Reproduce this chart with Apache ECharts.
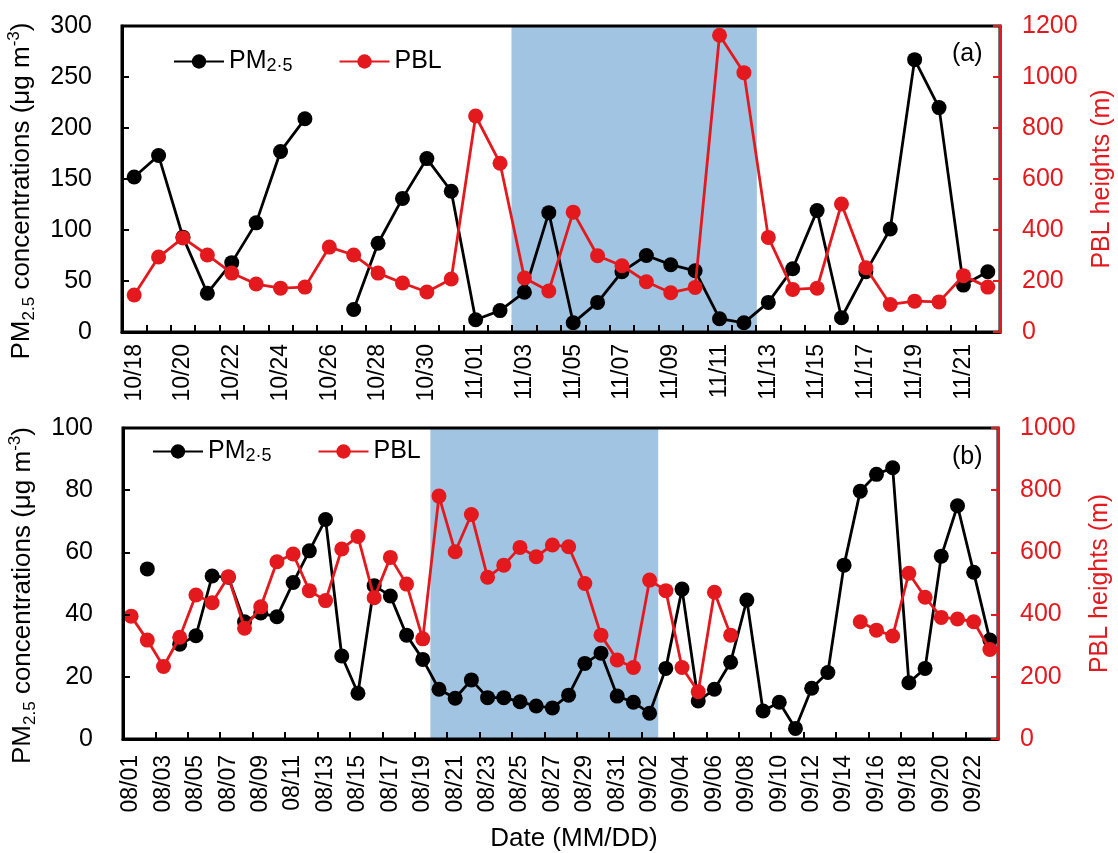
<!DOCTYPE html>
<html>
<head>
<meta charset="utf-8">
<script src="https://cdn.jsdelivr.net/npm/echarts@6/dist/echarts.min.js"></script>
<style>html,body{margin:0;padding:0;background:#fff}#c{width:1118px;height:853px}</style>
</head>
<body>
<div id="c"></div>
<script>
const datesA = ['10/18','10/19','10/20','10/21','10/22','10/23','10/24','10/25','10/26','10/27','10/28','10/29','10/30','10/31','11/01','11/02','11/03','11/04','11/05','11/06','11/07','11/08','11/09','11/10','11/11','11/12','11/13','11/14','11/15','11/16','11/17','11/18','11/19','11/20','11/21','11/22'];
const pmA = [152,173,93,38,68,107,177,209,null,22,87,131,170,138,12,21,39,117,9,29,59,75,66,60,13,9,29,62,119,14,59,101,267,220,46,59];
const pblA = [145,294,369,302,231,188,172,176,333,302,231,192,157,208,847,662,212,161,470,299,260,197,154,175,1164,1017,371,167,172,502,252,108,121,118,221,176];
const shadeA = ['11/03','11/12'];

const datesB = ['08/01','08/02','08/03','08/04','08/05','08/06','08/07','08/08','08/09','08/10','08/11','08/12','08/13','08/14','08/15','08/16','08/17','08/18','08/19','08/20','08/21','08/22','08/23','08/24','08/25','08/26','08/27','08/28','08/29','08/30','08/31','09/01','09/02','09/03','09/04','09/05','09/06','09/07','09/08','09/09','09/10','09/11','09/12','09/13','09/14','09/15','09/16','09/17','09/18','09/19','09/20','09/21','09/22','09/23'];
const pmB = [null,54.7,null,30.5,33.2,52.4,52,37.7,40.5,39.3,50.3,60.5,70.6,26.7,14.7,49.3,46,33.4,25.6,16,13.1,19,13.3,13.3,12,10.6,10,14.1,24.3,27.6,13.8,11.8,8.3,22.7,48.2,12.2,16,24.7,44.7,9,11.8,3.4,16.3,21.4,55.9,79.7,85.1,87.2,18.1,22.7,58.8,75,53.6,31.8];
const pblB = [395,318,233,327,463,438,522,356,425,570,595,477,445,611,651,454,584,498,322,781,602,722,520,559,616,586,624,618,500,334,254,230,511,477,230,152,472,334,null,null,null,null,null,null,null,377,350,331,533,456,391,386,377,288];
const shadeB = ['08/20','09/02'];

const pmTicksA = {min:0,max:300,interval:50};
const pblTicksA = {min:0,max:1200,interval:200};
const pmTicksB = {min:0,max:100,interval:20};
const pblTicksB = {min:0,max:1000,interval:200};

const FONT = "'Liberation Sans', Arial, sans-serif";
const RED = '#e3191e';
const BLUE = '#a0c4e1';

const chart = echarts.init(document.getElementById('c'), null, {renderer:'canvas'});

const grids = [
  {left:122, right:118, top:26, height:306},
  {left:123, right:120, top:428, height:311}
];

function xAxisCfg(gi, data, tickInterval, margin){
  return {
    type:'category', gridIndex:gi, data:data, boundaryGap:true, z:6,
    axisLine:{show:true, lineStyle:{color:'#000', width:3}},
    axisTick:{show:true, inside:true, length:7, interval:tickInterval, lineStyle:{color:'#000', width:2}},
    axisLabel:{interval:1, rotate:90, margin:margin, color:'#000', fontFamily:FONT, fontSize:23},
    splitLine:{show:false}
  };
}
const nameRich = {
  n:{fontFamily:FONT, fontSize:26, color:'#000', lineHeight:32},
  sub:{fontFamily:FONT, fontSize:17, color:'#000', lineHeight:32, verticalAlign:'bottom'},
  sup:{fontFamily:FONT, fontSize:17, color:'#000', lineHeight:32, verticalAlign:'top'}
};
function yLeft(gi, t){
  return {
    type:'value', gridIndex:gi, min:t.min, max:t.max, interval:t.interval, z:6,
    name:'{n|PM}{sub|2.5}{n| concentrations (μg m}{sup|-3}{n|)}',
    nameLocation:'middle', nameRotate:90, nameGap:84,
    nameTextStyle:{rich:nameRich, fontFamily:FONT, fontSize:26, color:'#000', padding:[0,24,0,0]},
    axisLine:{show:true, lineStyle:{color:'#000', width:3}},
    axisTick:{show:true, inside:true, length:7, lineStyle:{color:'#000', width:2}},
    axisLabel:{margin:30, color:'#000', fontFamily:FONT, fontSize:25, formatter:v=>String(v)},
    splitLine:{show:false}
  };
}
function yRight(gi, t){
  return {
    type:'value', gridIndex:gi, position:'right', min:t.min, max:t.max, interval:t.interval, z:7,
    name:'PBL heights (m)', nameLocation:'middle', nameRotate:90, nameGap:90,
    nameTextStyle:{fontFamily:FONT, fontSize:25, color:RED},
    axisLine:{show:true, lineStyle:{color:RED, width:3}},
    axisTick:{show:true, inside:true, length:7, lineStyle:{color:RED, width:2}},
    axisLabel:{margin:22, color:RED, fontFamily:FONT, fontSize:25, formatter:v=>String(v)},
    splitLine:{show:false}
  };
}
function shadeSeries(xi, yi, dates, shade, t){
  const i0 = dates.indexOf(shade[0]), i1 = dates.indexOf(shade[1]);
  return {
    name:'shade', type:'bar', xAxisIndex:xi, yAxisIndex:yi, silent:true,
    data: dates.map((d,i) => (i>=i0 && i<=i1) ? t.max : null),
    barWidth:'106%', barCategoryGap:'0%',
    itemStyle:{color:BLUE, borderWidth:0},
    z:1, legendHoverLink:false
  };
}
function pmSeries(xi, yi, data){
  return {
    name:'PM2.5', type:'line', xAxisIndex:xi, yAxisIndex:yi, data:data,
    symbol:'circle', symbolSize:15, showAllSymbol:true, connectNulls:false,
    itemStyle:{color:'#000'}, lineStyle:{color:'#000', width:2.8},
    z:3
  };
}
function pblSeries(xi, yi, data){
  return {
    name:'PBL', type:'line', xAxisIndex:xi, yAxisIndex:yi, data:data,
    symbol:'circle', symbolSize:15, showAllSymbol:true, connectNulls:false,
    itemStyle:{color:RED}, lineStyle:{color:RED, width:2.8}, z:4
  };
}
const legendRich = {
  a:{fontFamily:FONT, fontSize:25, color:'#000'},
  s:{fontFamily:FONT, fontSize:18, color:'#000', padding:[10,0,0,0]}
};
function legendCfg(left, top){
  return {
    left:left, top:top, orient:'horizontal', itemWidth:50, itemHeight:18, itemGap:46,
    data:['PM2.5','PBL'], selectedMode:false,
    formatter:function(n){ return n==='PM2.5' ? '{a|PM}{s|2·5}' : '{a|'+n+'}'; },
    textStyle:{rich:legendRich, fontFamily:FONT, fontSize:25, color:'#000'}
  };
}

const option = {
  animation:false,
  backgroundColor:'#fff',
  grid: grids.map(g => Object.assign({show:true, borderColor:'#000', borderWidth:3, backgroundColor:'transparent', containLabel:false, outerBoundsMode:'none', z:2}, g)),
  legend:[legendCfg(168,44), legendCfg(147,434)],
  xAxis:[xAxisCfg(0, datesA, 0, 12), xAxisCfg(1, datesB, 1, 16)],
  yAxis:[yLeft(0,pmTicksA), yRight(0,pblTicksA), yLeft(1,pmTicksB), yRight(1,pblTicksB)],
  series:[
    shadeSeries(0,0,datesA,shadeA,pmTicksA), pmSeries(0,0,pmA), pblSeries(0,1,pblA),
    shadeSeries(1,2,datesB,shadeB,pmTicksB), pmSeries(1,2,pmB), pblSeries(1,3,pblB)
  ],
  graphic:[
    {type:'text', left:952, top:42, style:{text:'(a)', font:"25px 'Liberation Sans', Arial", fill:'#000'}, z:100},
    {type:'text', left:952, top:445, style:{text:'(b)', font:"25px 'Liberation Sans', Arial", fill:'#000'}, z:100},
    {type:'text', x:574, y:839, style:{text:'Date (MM/DD)', font:"26px 'Liberation Sans', Arial", fill:'#000', align:'center', verticalAlign:'middle'}, z:100}
  ]
};
chart.setOption(option);
</script>
</body>
</html>
